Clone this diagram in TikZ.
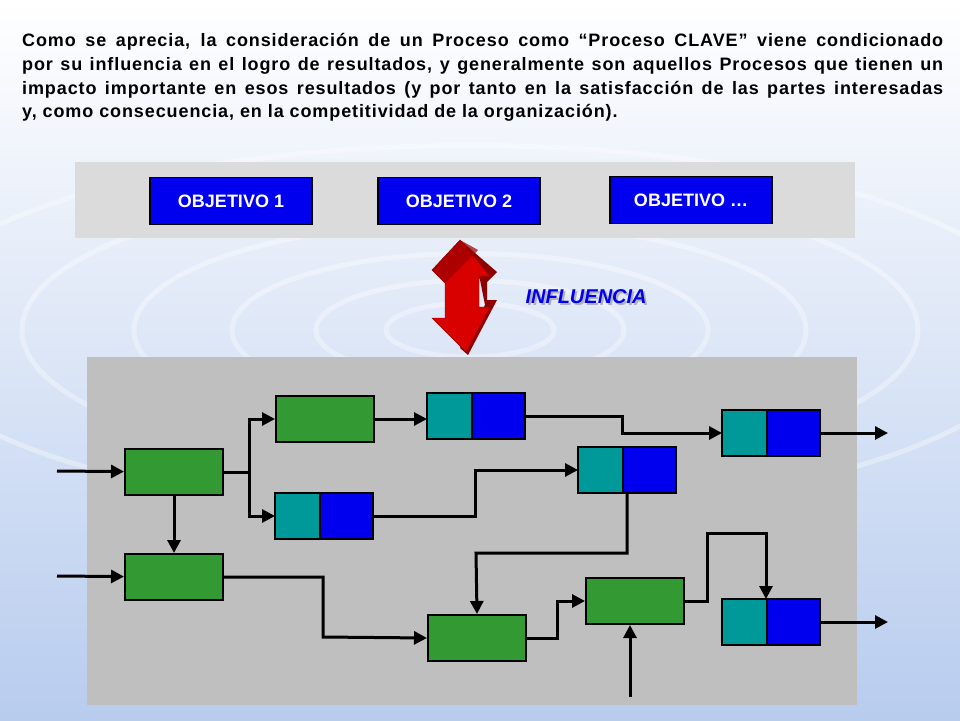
\documentclass[tikz,border=0pt]{standalone}
\usepackage{fontspec}
\setmainfont{Liberation Sans}
\newfontfamily\lsfont[LetterSpace=5]{Liberation Sans}
\usetikzlibrary{arrows.meta}
\definecolor{gbox}{HTML}{339933}
\definecolor{tealc}{HTML}{009999}
\definecolor{bluec}{HTML}{0000EE}
\definecolor{skyb}{HTML}{B8CCEE}
\tikzset{
 gb/.style={draw=black,line width=2pt,fill=gbox},
 conn/.style={line width=3pt,-{Triangle[length=13pt,width=13pt]}},
 obj/.style={draw=black,line width=1.5pt,fill=bluec,text=white,font=\bfseries\fontsize{18}{19}\selectfont,minimum width=162pt,minimum height=47pt,inner sep=0pt},
}
\newcommand{\splitbox}[3]{%
 \fill[tealc] (#2,#3) rectangle ++(45,46);
 \fill[bluec] (#2+45,#3) rectangle ++(53,46);
 \draw[line width=2pt] (#2,#3) rectangle ++(98,46) (#2+45,#3) -- ++(0,46);
 \coordinate (#1w) at (#2,#3+23);
 \coordinate (#1e) at (#2+98,#3+23);}
\newcommand{\gbx}[3]{%
 \node[gb,minimum width=98pt,minimum height=46pt,inner sep=0pt,anchor=north west] (#1) at (#2,#3) {};}
\begin{document}
\begin{tikzpicture}[x=1pt,y=-1pt]
\useasboundingbox (0,0) rectangle (960,720);
\shade[top color=white,bottom color=skyb] (0,0) rectangle (960,720);
\foreach \r in {60,110,170,240,320,410}
  \draw[white,opacity=0.35,line width=5pt] (470,330) ellipse ({\r*1.4} and {\r*0.45});
\node[anchor=north west,text width=921pt,align=justify,inner sep=0pt,font=\lsfont\bfseries\fontsize{18}{23.8}\selectfont] (para) at (22,33)
 {\hyphenpenalty=10000 Como se aprecia, la consideración de un Proceso como “Proceso CLAVE” viene condicionado\linebreak por su influencia en el logro de resultados, y generalmente son aquellos Procesos que tienen un\linebreak impacto importante en esos resultados (y por tanto en la satisfacción de las partes interesadas\linebreak y, como consecuencia, en la competitividad de la organización).};
\fill[gray!28] (75,162) rectangle (855,238);
\node[obj] (o1) at (231,201) {OBJETIVO 1};
\node[obj] (o2) at (459,201) {OBJETIVO 2};
\node[obj] (o3) at (691,200) {OBJETIVO …};
% red 3D arrow
\fill[red!55!black] (460,240) -- (497,272) -- (487,282) -- (487,300) -- (497,300) -- (468,355) -- (460,348) -- (485,305) -- (480,280) -- cycle;
\fill[red!85!black,draw=red!60!black] (460,240) -- (490,276) -- (479,276) -- (479,307) -- (490,307) -- (466,352) -- (432,318) -- (445,318) -- (445,283) -- (432,270) -- cycle;
\fill[red!60!black,opacity=0.7] (460,240) -- (432,270) -- (445,283) -- (478,250) -- cycle;
\node[font=\bfseries\itshape\fontsize{20}{22}\selectfont,text=gray!60,anchor=west] (infls) at (524,299) {INFLUENCIA};
\node[font=\bfseries\itshape\fontsize{20}{22}\selectfont,text=bluec,anchor=west] (infl) at (522,297) {INFLUENCIA};
% bottom panel
\fill[gray!50] (87,357) rectangle (857,705);
\gbx{g1}{124}{448}
\gbx{g2}{124}{553}
\gbx{g3}{275}{395}
\gbx{g4}{427}{614}
\gbx{g5}{585}{577}
\splitbox{s1}{275}{493}
\splitbox{s2}{427}{393}
\splitbox{s3}{578}{447}
\splitbox{s4}{722}{410}
\splitbox{s5}{722}{599}
\coordinate (i1) at (57,471);
\coordinate (i2) at (57,576);
\coordinate (i3) at (630,697);
\coordinate (s3s) at (627,493);
\coordinate (s5n) at (766,599);
\coordinate (e1) at (888,433);
\coordinate (e2) at (888,622);
\draw[conn] (i1) -- (g1);
\draw[conn] (i2) -- (g2);
\draw[conn] (g1) -- (g2);
\draw[conn] (g1.east) -- ++(25,0) |- (g3.west);
\draw[conn] (g1.east) -- ++(25,0) |- (s1w);
\draw[conn] (g3.east) -- (s2w |- g3.east);
\draw[conn] (s2e) -- ++(97,0) |- (s4w);
\draw[conn] (s4e) -- (e1);
\draw[conn] (s1e) -- ++(102,0) |- (s3w);
\draw[conn] (s3s) |- (476,553) -- (g4.north);
\draw[conn] (g2.east) -| (323,637) -- (g4.west);
\draw[conn] (g4.east) -- ++(30,0) |- (g5.west);
\draw[conn] (i3) -- (i3 |- g5.south);
\draw[conn] (g5.east) -| (707,533) -| (s5n);
\draw[conn] (s5e) -- (e2);
\end{tikzpicture}
\end{document}
